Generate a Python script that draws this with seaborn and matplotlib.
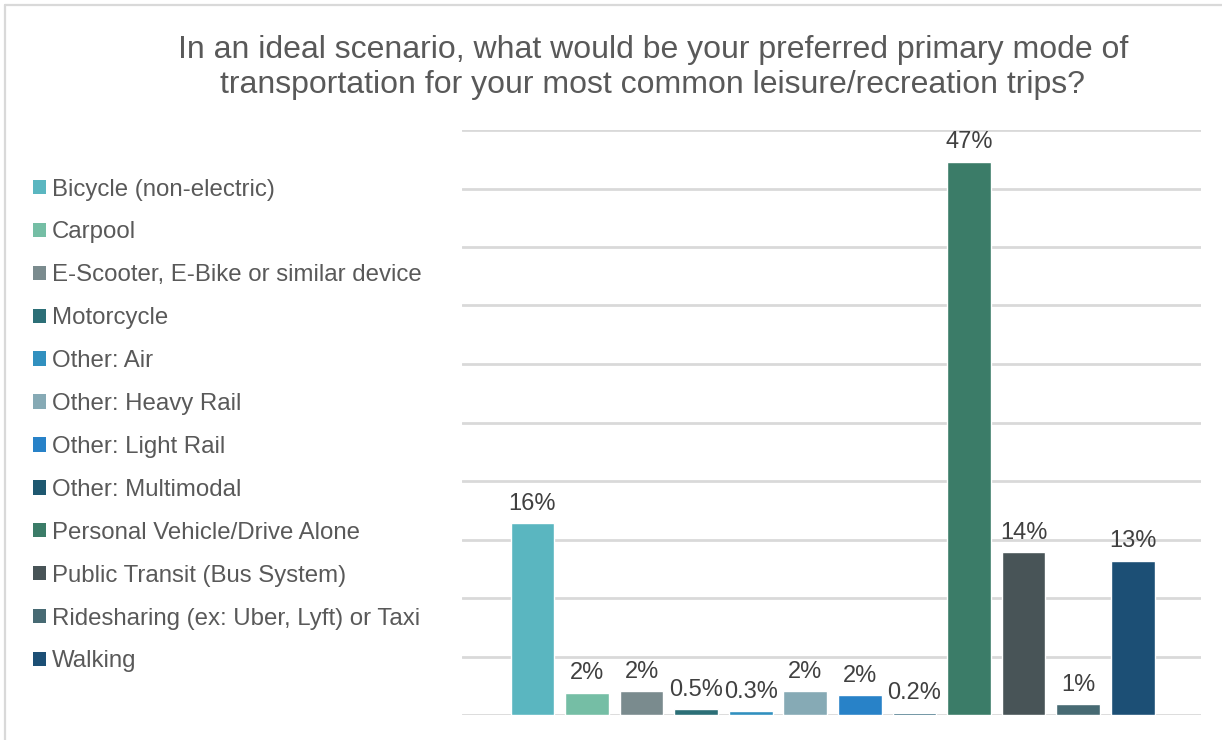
import matplotlib
matplotlib.use("Agg")
import pandas as pd
import seaborn as sns
from matplotlib import pyplot as plt
from matplotlib.patches import Patch
from matplotlib.lines import Line2D


sns.set_theme(style="white")
plt.rcParams['font.family'] = ['Liberation Sans', 'DejaVu Sans']

# survey answers (share of respondents, %)
modes = ['Bicycle (non-electric)', 'Carpool', 'E-Scooter, E-Bike or similar device',
         'Motorcycle', 'Other: Air', 'Other: Heavy Rail', 'Other: Light Rail',
         'Other: Multimodal', 'Personal Vehicle/Drive Alone', 'Public Transit (Bus System)',
         'Ridesharing (ex: Uber, Lyft) or Taxi', 'Walking']
shares = [16.4, 1.9, 2.05, 0.5, 0.3, 2.05, 1.7, 0.2, 47.3, 13.9, 0.9, 13.2]
share_labels = ['16%', '2%', '2%', '0.5%', '0.3%', '2%', '2%', '0.2%', '47%', '14%', '1%', '13%']
colors = ['#5AB6C0', '#75BEA5', '#7A8B8E', '#2C6F77', '#3190BF', '#86AAB5',
          '#2882C8', '#1E5870', '#3B7C68', '#485457', '#476A73', '#1C4F75']

title = ("In an ideal scenario, what would be your preferred primary mode of\n"
         "transportation for your most common leisure/recreation trips?")

df = pd.DataFrame({'mode': modes, 'share': shares})

fig = plt.figure(figsize=(12.22, 7.40), dpi=100)
ax = fig.add_axes([462 / 1222, 1 - 715 / 740, (1201 - 462) / 1222, (715 - 130) / 740])

sns.barplot(data=df, x='mode', y='share', hue='mode', palette=colors,
            saturation=1, width=0.8, legend=False, ax=ax)

# labels over each bar (one container per hue level)
for cont, lab in zip(ax.containers, share_labels):
    ax.bar_label(cont, labels=[lab], padding=6, fontsize=17, color='#404040')

ax.set_ylim(0, 50)
ax.set_xlim(-1.29, 12.25)
ax.set_yticks(range(0, 51, 5))
ax.yaxis.grid(True, color='#D9D9D9', linewidth=2)
ax.set_axisbelow(True)
ax.tick_params(left=False, bottom=False, labelleft=False, labelbottom=False)
ax.set_xlabel('')
ax.set_ylabel('')
sns.despine(ax=ax, left=True, bottom=True)

handles = [Patch(facecolor=c, edgecolor='none') for c in colors]
fig.legend(handles, modes, loc='center left', bbox_to_anchor=(33 / 1222, 1 - 425.5 / 740),
           frameon=False, fontsize=17.3, labelcolor='#595959', handlelength=0.54,
           handleheight=0.54, handletextpad=0.25, labelspacing=0.87,
           borderpad=0, borderaxespad=0)

fig.text(653 / 1222, 1 - 67.5 / 740, title, ha='center', va='center',
         fontsize=23, color='#595959', linespacing=1.22)

# chart frame (top and left edges visible)
fig.add_artist(Line2D([5 / 1222, 5 / 1222], [0, 1 - 4.5 / 740], transform=fig.transFigure,
                      color='#D9D9D9', linewidth=1.6))
fig.add_artist(Line2D([5 / 1222, 1], [1 - 4.5 / 740, 1 - 4.5 / 740], transform=fig.transFigure,
                      color='#D9D9D9', linewidth=1.6))

fig.savefig('out.png', dpi=100)
